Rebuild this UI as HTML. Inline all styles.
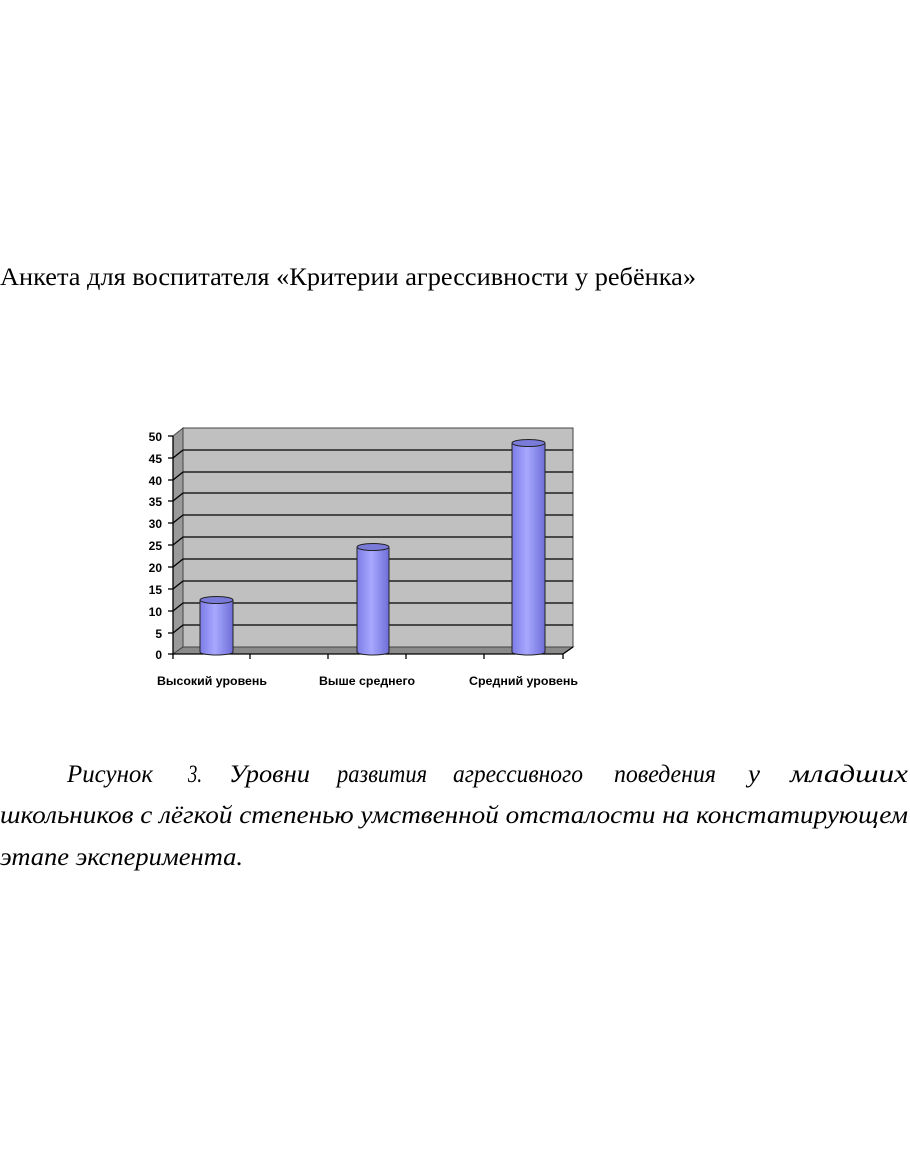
<!DOCTYPE html>
<html><head><meta charset="utf-8"><style>
html,body{margin:0;padding:0;background:#fff;width:910px;height:1155px;overflow:hidden}
</style></head><body>
<svg width="910" height="1155" viewBox="0 0 910 1155" xmlns="http://www.w3.org/2000/svg">
<defs>
<linearGradient id="cyl" x1="0" x2="1" y1="0" y2="0">
<stop offset="0" stop-color="#7c7ce6"/><stop offset="0.45" stop-color="#a8a8ff"/><stop offset="1" stop-color="#6e6ed8"/>
</linearGradient>
</defs>
<g font-family="'Liberation Serif',serif" font-size="25" fill="#000">
<text x="0" y="285" textLength="696" lengthAdjust="spacingAndGlyphs">Анкета для воспитателя «Критерии агрессивности у ребёнка»</text>
<g font-style="italic" lengthAdjust="spacingAndGlyphs">
<text x="67" y="782" textLength="86" lengthAdjust="spacingAndGlyphs">Рисунок</text>
<text x="188" y="782" textLength="14" lengthAdjust="spacingAndGlyphs">3.</text>
<text x="229" y="782" textLength="81" lengthAdjust="spacingAndGlyphs">Уровни</text>
<text x="337" y="782" textLength="90" lengthAdjust="spacingAndGlyphs">развития</text>
<text x="453" y="782" textLength="130" lengthAdjust="spacingAndGlyphs">агрессивного</text>
<text x="614" y="782" textLength="102" lengthAdjust="spacingAndGlyphs">поведения</text>
<text x="748" y="782" textLength="12" lengthAdjust="spacingAndGlyphs">у</text>
<text x="790" y="782" textLength="118" lengthAdjust="spacingAndGlyphs">младших</text>
<text x="0" y="823" textLength="908" lengthAdjust="spacingAndGlyphs">школьников с лёгкой степенью умственной отсталости на констатирующем</text>
<text x="0" y="865" textLength="243" lengthAdjust="spacingAndGlyphs">этапе эксперимента.</text>
</g>
</g>
<polygon points="183,428 573,428 573,647 183,647" fill="#c0c0c0" stroke="#444" stroke-width="1"/>
<polygon points="173,436 183,428 183,647 173,654" fill="#9a9a9a" stroke="#444" stroke-width="1"/>
<polygon points="173,654 183,647 573,647 563,654" fill="#8a8a8a" stroke="#444" stroke-width="1"/>
<g stroke="#000" stroke-width="1.3">
<line x1="183" y1="450" x2="573" y2="450"/>
<line x1="183" y1="472" x2="573" y2="472"/>
<line x1="183" y1="493" x2="573" y2="493"/>
<line x1="183" y1="515" x2="573" y2="515"/>
<line x1="183" y1="537" x2="573" y2="537"/>
<line x1="183" y1="559" x2="573" y2="559"/>
<line x1="183" y1="581" x2="573" y2="581"/>
<line x1="183" y1="603" x2="573" y2="603"/>
<line x1="183" y1="625" x2="573" y2="625"/>
<line x1="173" y1="458" x2="183" y2="450"/>
<line x1="173" y1="480" x2="183" y2="472"/>
<line x1="173" y1="501" x2="183" y2="493"/>
<line x1="173" y1="523" x2="183" y2="515"/>
<line x1="173" y1="545" x2="183" y2="537"/>
<line x1="173" y1="567" x2="183" y2="559"/>
<line x1="173" y1="589" x2="183" y2="581"/>
<line x1="173" y1="611" x2="183" y2="603"/>
<line x1="173" y1="633" x2="183" y2="625"/>
<line x1="173" y1="436" x2="173" y2="655"/>
<line x1="173" y1="654" x2="563" y2="654"/>
<line x1="563" y1="654" x2="573" y2="647"/>
<line x1="168" y1="436" x2="173" y2="436"/>
<line x1="168" y1="458" x2="173" y2="458"/>
<line x1="168" y1="480" x2="173" y2="480"/>
<line x1="168" y1="501" x2="173" y2="501"/>
<line x1="168" y1="523" x2="173" y2="523"/>
<line x1="168" y1="545" x2="173" y2="545"/>
<line x1="168" y1="567" x2="173" y2="567"/>
<line x1="168" y1="589" x2="173" y2="589"/>
<line x1="168" y1="611" x2="173" y2="611"/>
<line x1="168" y1="633" x2="173" y2="633"/>
<line x1="168" y1="654" x2="173" y2="654"/>
<line x1="250" y1="654" x2="250" y2="659"/>
<line x1="328" y1="654" x2="328" y2="659"/>
<line x1="406" y1="654" x2="406" y2="659"/>
<line x1="484" y1="654" x2="484" y2="659"/>
<line x1="563" y1="654" x2="563" y2="659"/>
<line x1="173" y1="654" x2="173" y2="659"/>
</g>
<g stroke="#222" stroke-width="1">
<path d="M200,601 L200,652 A16.5,3 0 0 0 233,652 L233,601 Z" fill="url(#cyl)"/>
<ellipse cx="216.5" cy="600" rx="16.5" ry="3.5" fill="#7a7ad8"/>
<path d="M357,548 L357,652 A16,3 0 0 0 389,652 L389,548 Z" fill="url(#cyl)"/>
<ellipse cx="373" cy="547" rx="16" ry="3.5" fill="#7a7ad8"/>
<path d="M512,444 L512,652 A16.5,3 0 0 0 545,652 L545,444 Z" fill="url(#cyl)"/>
<ellipse cx="528.5" cy="443" rx="16.5" ry="3.5" fill="#7a7ad8"/>
</g>
<g font-family="'Liberation Sans',sans-serif" font-weight="bold" font-size="12" fill="#000" text-anchor="end">
<text x="162" y="441">50</text><text x="162" y="463">45</text><text x="162" y="485">40</text>
<text x="162" y="506">35</text><text x="162" y="528">30</text><text x="162" y="550">25</text>
<text x="162" y="572">20</text><text x="162" y="594">15</text><text x="162" y="616">10</text>
<text x="162" y="638">5</text><text x="162" y="659">0</text>
</g>
<g font-family="'Liberation Sans',sans-serif" font-weight="bold" font-size="12" fill="#000">
<text x="157" y="685" textLength="110" lengthAdjust="spacingAndGlyphs">Высокий уровень</text>
<text x="319" y="685" textLength="96" lengthAdjust="spacingAndGlyphs">Выше среднего</text>
<text x="469" y="685" textLength="109" lengthAdjust="spacingAndGlyphs">Средний уровень</text>
</g>
</svg>
</body></html>
